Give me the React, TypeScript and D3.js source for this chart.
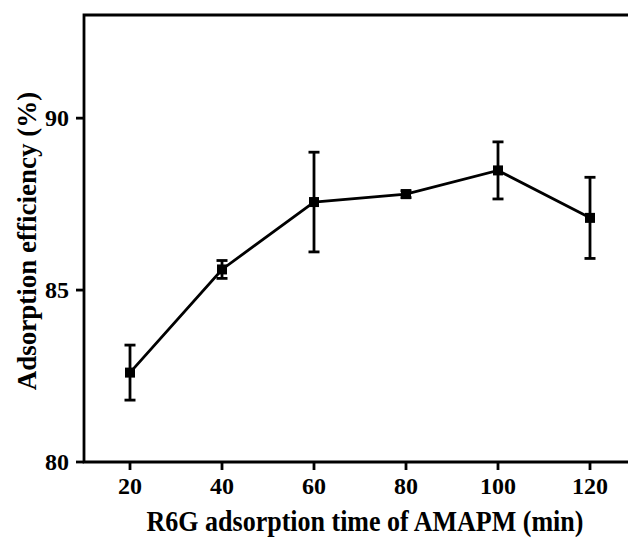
import React, { useEffect, useRef } from "react";
import * as d3 from "d3";

const times = [20, 40, 60, 80, 100, 120];
const efficiency = [82.6, 85.6, 87.56, 87.79, 88.48, 87.1];
const errors = [0.8, 0.26, 1.45, 0.1, 0.83, 1.18];
const xTicks = [20, 40, 60, 80, 100, 120];
const yTicks = [80, 85, 90];
const xTitle = "R6G adsorption time of AMAPM (min)";
const yTitle = "Adsorption efficiency (%)";

const W = 628;
const H = 544;

export default function App() {
  const ref = useRef<SVGSVGElement | null>(null);

  useEffect(() => {
    const svg = d3.select(ref.current);
    svg.selectAll("*").remove();

    const x = d3.scaleLinear().domain([10, 130]).range([84, 636]);
    const y = d3.scaleLinear().domain([80, 93]).range([462, 15]);
    const font = "'Liberation Serif', 'Times New Roman', serif";

    svg.append("rect").attr("width", W).attr("height", H).attr("fill", "#fff");

    const data = times.map((t, i) => ({ t, v: efficiency[i], e: errors[i] }));

    const x0 = x(10);
    const yTop = y(93);
    const yBot = y(80);
    const frame = svg.append("g").attr("stroke", "#000").attr("stroke-width", 2.8).attr("fill", "none");
    frame.append("path").attr("d", `M${W + 10},${yTop}H${x0}V${yBot}H${W + 10}`).attr("stroke-linecap", "square");

    const g = svg.append("g");
    yTicks.forEach((t) => {
      g.append("line").attr("x1", x0 - 8).attr("x2", x0).attr("y1", y(t)).attr("y2", y(t))
        .attr("stroke", "#000").attr("stroke-width", 2.8);
      g.append("text").attr("x", x0 - 15).attr("y", y(t)).attr("dy", "0.34em")
        .attr("text-anchor", "end").attr("font-family", font).attr("font-weight", "bold")
        .attr("font-size", 24).attr("fill", "#000").text(String(t));
    });
    xTicks.forEach((t) => {
      g.append("line").attr("x1", x(t)).attr("x2", x(t)).attr("y1", yBot).attr("y2", yBot + 8)
        .attr("stroke", "#000").attr("stroke-width", 2.8);
      g.append("text").attr("x", x(t)).attr("y", 494)
        .attr("text-anchor", "middle").attr("font-family", font).attr("font-weight", "bold")
        .attr("font-size", 24).attr("fill", "#000").text(String(t));
    });

    svg.append("text").attr("transform", "translate(365,531) scale(1,1.1)").attr("text-anchor", "middle")
      .attr("font-family", font).attr("font-weight", "bold").attr("font-size", 26).attr("fill", "#000")
      .text(xTitle);
    svg.append("text").attr("transform", `translate(36,241) rotate(-90)`).attr("text-anchor", "middle")
      .attr("font-family", font).attr("font-weight", "bold").attr("font-size", 27).attr("fill", "#000")
      .text(yTitle);

    const line = d3.line<{ t: number; v: number }>().x((d) => x(d.t)).y((d) => y(d.v));
    svg.append("path").datum(data).attr("d", line).attr("fill", "none")
      .attr("stroke", "#000").attr("stroke-width", 2.8);

    const eb = svg.append("g").attr("stroke", "#000").attr("stroke-width", 2.8);
    data.forEach((d) => {
      const cx = x(d.t);
      eb.append("line").attr("x1", cx).attr("x2", cx).attr("y1", y(d.v - d.e)).attr("y2", y(d.v + d.e));
      [d.v - d.e, d.v + d.e].forEach((v) => {
        eb.append("line").attr("x1", cx - 5.5).attr("x2", cx + 5.5).attr("y1", y(v)).attr("y2", y(v));
      });
    });

    svg.append("g").selectAll("rect").data(data).join("rect")
      .attr("x", (d) => x(d.t) - 5).attr("y", (d) => y(d.v) - 5)
      .attr("width", 10).attr("height", 10).attr("fill", "#000");
  }, []);

  return (
    <svg ref={ref} width={W} height={H}
      style={{ position: "absolute", left: 0, top: 0, display: "block" }} />
  );
}
